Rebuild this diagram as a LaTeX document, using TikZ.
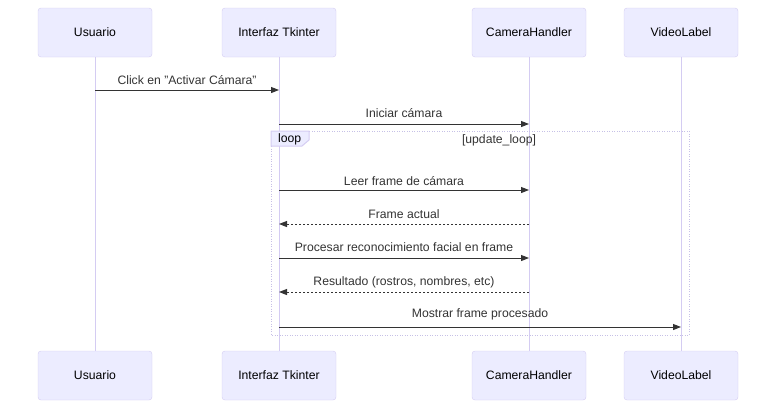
\documentclass[tikz,border=0pt]{standalone}
\usepackage{fontspec}
\setmainfont{Liberation Sans}
\usetikzlibrary{arrows.meta}
\definecolor{actfill}{HTML}{ECECFF}
\definecolor{actline}{HTML}{D4CCF2}
\definecolor{loopline}{HTML}{C6C0E6}
\definecolor{msgcol}{HTML}{333333}
\def\tip{Triangle[length=8pt,width=6pt]}
\tikzset{actor/.style={draw=actline, fill=actfill, rounded corners=3pt, minimum width=114pt, minimum height=49pt, inner sep=0pt, font=\fontsize{12.2}{14}\selectfont, text=black}}
\tikzset{life/.style={actline, line width=1pt}}
\tikzset{msg/.style={msgcol, line width=1pt, -{\tip}}}
\tikzset{reply/.style={msg, dash pattern=on 2pt off 2pt}}
\tikzset{lbl/.style={font=\fontsize{12.2}{14}\selectfont, text=msgcol, inner sep=0pt}}
\tikzset{loopbox/.style={loopline, line width=1pt, dash pattern=on 1pt off 1.5pt}}

\begin{document}
\begin{tikzpicture}[x=1pt,y=-1pt]
      \useasboundingbox (0,0) rectangle (784,413);
      % Participantes
      \node[actor] (ut) at (95,32.5) {Usuario};
      \node[actor] (it) at (279,32.5) {Interfaz Tkinter};
      \node[actor] (ct) at (529,32.5) {CameraHandler};
      \node[actor] (vt) at (681,32.5) {VideoLabel};
      \node[actor] (ub) at (95,375.5) {Usuario};
      \node[actor] (ib) at (279,375.5) {Interfaz Tkinter};
      \node[actor] (cb) at (529,375.5) {CameraHandler};
      \node[actor] (vb) at (681,375.5) {VideoLabel};

      % Lineas de vida
      \draw[life] (ut) -- (ub);
      \draw[life] (it) -- (ib);
      \draw[life] (ct) -- (cb);
      \draw[life] (vt) -- (vb);

      % Bucle
      \draw[loopbox] (271,131) rectangle (689,335);
      \draw[actline, fill=actfill, line width=1pt] (271,131) -- (309,131) -- (309,140)
        -- (302,146) -- (271,146) -- cycle;
      \node[lbl, anchor=west, text=black] (lp) at (278,139.5) {loop};
      \node[lbl] (lc) at (499,140) {[update\_loop]};

      % Mensajes
      \coordinate (m1) at (0,90);
      \coordinate (m2) at (0,124);
      \coordinate (m3) at (0,190);
      \coordinate (m4) at (0,224);
      \coordinate (m5) at (0,258);
      \coordinate (m6) at (0,292);
      \coordinate (m7) at (0,327);
      \draw[msg] (ut |- m1) -- node[lbl, above=5pt] {Click en "Activar Cámara"} (it |- m1);
      \draw[msg] (it |- m2) -- node[lbl, above=6pt] {Iniciar cámara} (ct |- m2);
      \draw[msg] (it |- m3) -- node[lbl, above=4pt] {Leer frame de cámara} (ct |- m3);
      \draw[reply] (ct |- m4) -- node[lbl, above=5pt] {Frame actual} (it |- m4);
      \draw[msg] (it |- m5) -- node[lbl, above=6pt] {Procesar reconocimiento facial en frame} (ct |- m5);
      \draw[reply] (ct |- m6) -- node[lbl, above=3.5pt] {Resultado (rostros, nombres, etc)} (it |- m6);
      \draw[msg] (it |- m7) -- node[lbl, above=6pt] {Mostrar frame procesado} (vt |- m7);
\end{tikzpicture}
\end{document}
